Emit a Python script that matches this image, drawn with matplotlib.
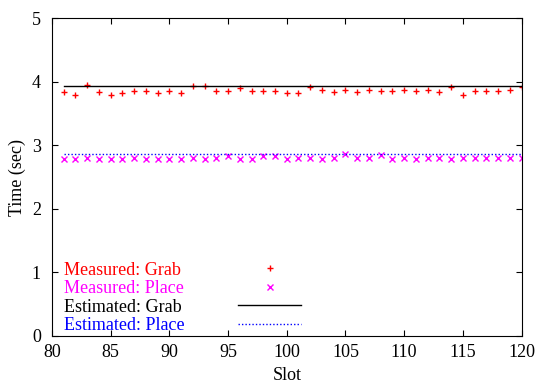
import numpy as np
import matplotlib
matplotlib.use("Agg")
import matplotlib.pyplot as plt

plt.rcParams['font.family'] = ['Liberation Serif', 'DejaVu Serif']
plt.rcParams['font.size'] = 13

# data
slots = np.arange(81, 121)
grab_measured = [3.84, 3.80, 3.95, 3.84, 3.80, 3.83, 3.86, 3.86, 3.83, 3.86,
                 3.83, 3.94, 3.94, 3.86, 3.86, 3.90, 3.86, 3.86, 3.86, 3.83,
                 3.83, 3.92, 3.88, 3.84, 3.87, 3.84, 3.88, 3.86, 3.85, 3.88,
                 3.85, 3.88, 3.84, 3.92, 3.80, 3.85, 3.85, 3.85, 3.88, 3.92]
place_measured = [2.79, 2.79, 2.80, 2.79, 2.79, 2.79, 2.80, 2.79, 2.79, 2.79,
                  2.79, 2.80, 2.79, 2.80, 2.84, 2.79, 2.79, 2.84, 2.84, 2.79,
                  2.80, 2.80, 2.79, 2.80, 2.86, 2.80, 2.80, 2.85, 2.79, 2.80,
                  2.79, 2.80, 2.80, 2.79, 2.80, 2.80, 2.80, 2.80, 2.80, 2.80]
grab_estimated = 3.94
place_estimated = 2.86

fig = plt.figure(figsize=(5.36, 3.83), dpi=100)
ax = fig.add_axes([0.097, 0.123, 0.876, 0.829])

ax.plot(slots, grab_measured, ls='none', marker='+', ms=5, mew=1, color='#ff0000',
        label='Measured: Grab')
ax.plot(slots, place_measured, ls='none', marker='x', ms=4, mew=1, color='#ff00ff',
        label='Measured: Place')
ax.plot(slots, [grab_estimated] * len(slots), color='black', lw=1,
        label='Estimated: Grab')
ax.plot(slots, [place_estimated] * len(slots), color='#0000ff', lw=1, ls=(0, (1, 1.5)),
        label='Estimated: Place')

ax.set_xlim(80, 120)
ax.set_ylim(0, 5)
ax.set_xticks(range(80, 121, 5))
ax.set_yticks(range(0, 6))
ax.tick_params(direction='in', top=True, right=True, length=4, labelsize=13)
ax.tick_params(axis='y', pad=8)
ax.tick_params(axis='x', pad=6)
ax.set_xlabel('Slot', labelpad=4)
ax.set_ylabel('Time (sec)', labelpad=4)

leg = ax.legend(loc='lower left', bbox_to_anchor=(0.022, 0.0), frameon=False,
                markerfirst=False,
                labelcolor=['#ff0000', '#ff00ff', 'black', '#0000ff'],
                handlelength=3.5, handletextpad=3.0, labelspacing=0.08,
                borderaxespad=0.0, borderpad=0.1)
# gnuplot-like key: labels left aligned, samples in one column
for col in leg._legend_handle_box.get_children():
    for row in col.get_children():
        row.mode = 'expand'
        row.width = 237

fig.savefig('out.png', dpi=100)
